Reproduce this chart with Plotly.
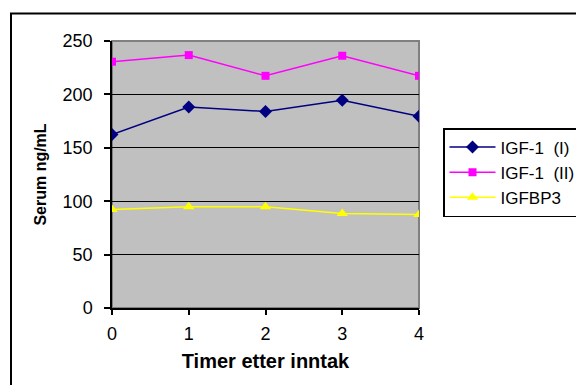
import plotly.graph_objects as go

hours = [0, 1, 2, 3, 4]
igf1_i = [162.5, 188.2, 184.0, 194.5, 179.5]
igf1_ii = [230.6, 236.8, 217.4, 236.2, 217.4]
igfbp3 = [92.3, 94.7, 94.7, 88.5, 87.5]
y_ticks = [0, 50, 100, 150, 200, 250]
x_ticks = [0, 1, 2, 3, 4]

FONT = "Liberation Sans, Arial, sans-serif"

# plot area in pixels
L, R, T, B = 112, 419, 41, 308
W, H = 576, 385


def px_x(p):
    return (p - L) / (R - L)


def px_y(p):
    return (B - p) / (B - T)


fig = go.Figure()
fig.add_trace(go.Scatter(
    x=hours, y=igf1_i, name="IGF-1\u00a0 (I)", mode="lines+markers",
    line=dict(color="#000080", width=1.5),
    marker=dict(symbol="diamond", size=10, color="#000080")))
fig.add_trace(go.Scatter(
    x=hours, y=igf1_ii, name="IGF-1\u00a0 (II)", mode="lines+markers",
    line=dict(color="#FF00FF", width=1.5),
    marker=dict(symbol="square", size=8, color="#FF00FF")))
fig.add_trace(go.Scatter(
    x=hours, y=igfbp3, name="IGFBP3", mode="lines+markers",
    line=dict(color="#FFFF00", width=1.5),
    marker=dict(symbol="triangle-up", size=10, color="#FFFF00")))

shapes = [
    # gray plot border (top and right)
    dict(type="rect", xref="paper", yref="paper", x0=0, x1=1, y0=0, y1=1,
         line=dict(color="#808080", width=2), layer="between"),
    # outer chart frame (extends past the right and bottom edges)
    dict(type="rect", xref="paper", yref="paper",
         x0=px_x(11), x1=px_x(W + 10), y0=px_y(H + 10), y1=px_y(13.5),
         line=dict(color="black", width=2), layer="below"),
]

fig.update_layout(
    width=W, height=H,
    margin=dict(l=L, r=W - R, t=T, b=H - B, autoexpand=False),
    paper_bgcolor="white", plot_bgcolor="#C0C0C0",
    font=dict(family=FONT, size=18, color="black"),
    showlegend=True,
    legend=dict(x=px_x(443), y=px_y(128), xanchor="left", yanchor="top",
                bordercolor="black", borderwidth=1.5, bgcolor="white",
                font=dict(family=FONT, size=17, color="black"),
                tracegroupgap=0, itemwidth=46),
    shapes=shapes,
    xaxis=dict(range=[0, 4], tickvals=x_ticks, ticktext=[str(v) for v in x_ticks],
               showgrid=False, zeroline=False,
               showline=True, linecolor="black", linewidth=1.5,
               ticks="outside", ticklen=5, tickcolor="black", tickwidth=1.5,
               ticklabelstandoff=4,
               title=dict(text="<b>Timer etter inntak</b>",
                          font=dict(family=FONT, size=20), standoff=11)),
    yaxis=dict(range=[0, 250], tickvals=y_ticks, ticktext=[str(v) for v in y_ticks],
               showgrid=True, gridcolor="black", gridwidth=1,
               zeroline=False,
               showline=True, linecolor="black", linewidth=1.5,
               ticks="outside", ticklen=6, tickcolor="black", tickwidth=1.5,
               ticklabelstandoff=8,
               title=dict(text="<b>Serum ng/mL</b>",
                          font=dict(family=FONT, size=16), standoff=12)),
)

fig.write_html("out.html")
